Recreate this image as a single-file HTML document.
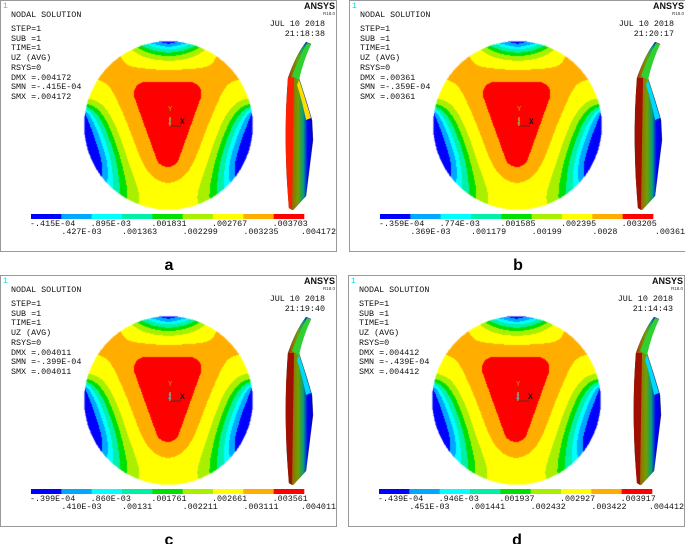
<!DOCTYPE html>
<html><head><meta charset="utf-8">
<style>
body{margin:0;background:#fff;}
#cv{position:absolute;left:0;top:0;}
#root{position:absolute;left:0;top:0;display:block;}
.t{font-family:"Liberation Mono",monospace;font-size:8.4px;fill:#111;}
.lab{font-family:"Liberation Sans",sans-serif;font-weight:bold;font-size:16px;fill:#000;}
</style></head>
<body>
<canvas id="cv" width="685" height="544"></canvas>
<svg id="root" width="685" height="544" viewBox="0 0 685 544">
<defs>
<linearGradient id="sideg" x1="0" x2="1" y1="0" y2="0">
<stop offset="0" stop-color="#c00000"/><stop offset="0.2" stop-color="#a06000"/>
<stop offset="0.45" stop-color="#70a000"/><stop offset="0.65" stop-color="#00a080"/>
<stop offset="0.8" stop-color="#0000ff"/><stop offset="1" stop-color="#0000cc"/>
</linearGradient>
</defs>
</svg>
<script>
const panelNames=['a','b','c','d'];
const panelX=[0,349,0,348];
const panelY=[0,0,275,275];
const times=['21:18:38','21:20:17','21:19:40','21:14:43'];
const dmx=['.004172','.00361','.004011','.004412'];
const smn=['-.415E-04','-.359E-04','-.399E-04','-.439E-04'];
const smx=['.004172','.00361','.004011','.004412'];
const legendTop=[
 ['-.415E-04','.895E-03','.001831','.002767','.003703'],
 ['-.359E-04','.774E-03','.001585','.002395','.003205'],
 ['-.399E-04','.860E-03','.001761','.002661','.003561'],
 ['-.439E-04','.946E-03','.001937','.002927','.003917']];
const legendBot=[
 ['.427E-03','.001363','.002299','.003235','.004172'],
 ['.369E-03','.001179','.00199','.0028','.00361'],
 ['.410E-03','.00131','.002211','.003111','.004011'],
 ['.451E-03','.001441','.002432','.003422','.004412']];
const bandColors=['#0000ff','#00a8ff','#00ffff','#00f0a8','#00e000','#a8f000','#ffff00','#ffae00','#ff0000'];
// observed band edge distances (px) from red core edge along the horizontal mid-line, outer to inner
const bandEdgeDist=[56,51,47,42,37,30,17];
// boundary field value by angle on disk rim (right half, y-down degrees; mirrored for left)
const edgeAngles=[-90,-84,-78,-72,-66,-60,-45,-28,-20,-15,-12,-10,-8,10,30,38,45,52,58,65,72,90];
const edgeValues=[-0.45,-0.35,-0.2,0,0.2,0.5,0.65,0.5,0.35,0.15,0,-0.25,-0.4,-0.6,-0.55,-0.3,-0.16,-0.04,0.08,0.21,0.33,0.34];
const coreX=[-0.27,0.25,-0.01];
const coreY=[-0.375,-0.375,0.35];
const coreRound=0.14;
const coreValue=0.9;

const NS='http://www.w3.org/2000/svg';
const root=document.getElementById('root');
function mk(tag,attrs,parent){const e=document.createElementNS(NS,tag);for(const k in attrs)e.setAttribute(k,attrs[k]);(parent||root).appendChild(e);return e;}
function interp(A,V,deg){
  let d=((deg+180)%360+360)%360-180;
  if(d>90)d=180-d; if(d<-90)d=-180-d;
  for(let i=0;i<A.length-1;i++){if(d>=A[i]&&d<=A[i+1]){const f=(d-A[i])/(A[i+1]-A[i]);return V[i]+f*(V[i+1]-V[i]);}}
  return d<A[0]?V[0]:V[V.length-1];
}
function segDist(px,py,ax,ay,bx,by){const dx=bx-ax,dy=by-ay;let t=((px-ax)*dx+(py-ay)*dy)/(dx*dx+dy*dy);t=Math.max(0,Math.min(1,t));return Math.hypot(px-ax-t*dx,py-ay-t*dy);}
function coreDist(x,y){
  let inside=true,md=1e9;
  for(let i=0;i<3;i++){const j=(i+1)%3;
    const cr=(coreX[j]-coreX[i])*(y-coreY[i])-(coreY[j]-coreY[i])*(x-coreX[i]);
    if(cr<0)inside=false;
    md=Math.min(md,segDist(x,y,coreX[i],coreY[i],coreX[j],coreY[j]));}
  return inside?0:md;
}
const N=81,h=2/(N-1);
const val=new Float64Array(N*N),fixedMask=new Uint8Array(N*N);
for(let j=0;j<N;j++)for(let i=0;i<N;i++){
  const x=-1+i*h,y=-1+j*h,r=Math.hypot(x,y),k=j*N+i;
  if(r>=1-h*0.3){fixedMask[k]=1;val[k]=interp(edgeAngles,edgeValues,Math.atan2(y,x)*180/Math.PI);}
  else if(coreDist(x,y)<coreRound){fixedMask[k]=1;val[k]=coreValue;}
  else val[k]=0.3;
}
for(let it=0;it<900;it++){
  for(let j=1;j<N-1;j++)for(let i=1;i<N-1;i++){const k=j*N+i;if(fixedMask[k])continue;
    const nv=0.25*(val[k-1]+val[k+1]+val[k-N]+val[k+N]);val[k]+=1.9*(nv-val[k]);}
}
function sample(x,y){
  const gx=Math.max(0,Math.min(N-1.001,(x+1)/h)),gy=Math.max(0,Math.min(N-1.001,(y+1)/h));
  const i=Math.floor(gx),j=Math.floor(gy),fx=gx-i,fy=gy-j,k=j*N+i;
  return (val[k]*(1-fx)+val[k+1]*fx)*(1-fy)+(val[k+N]*(1-fx)+val[k+N+1]*fx)*fy;
}
const CX=168,CY=125.5,R=84.5;
let edgeX=0;while(coreDist(edgeX,0)<coreRound)edgeX+=0.001;
const thresholds=bandEdgeDist.map(d=>sample(Math.min(0.995,edgeX+d/R),0));
thresholds.push(coreValue-1e-6);

const rgb=bandColors.map(c=>[parseInt(c.slice(1,3),16),parseInt(c.slice(3,5),16),parseInt(c.slice(5,7),16)]);
const cv=document.getElementById('cv'),ctx=cv.getContext('2d');
const S=Math.ceil(2*R)+2;
const img=ctx.createImageData(S,S);
for(let py=0;py<S;py++)for(let px=0;px<S;px++){
  const x=(px+0.5-S/2)/R,y=(py+0.5-S/2)/R,r=Math.hypot(x,y),o=(py*S+px)*4;
  if(r>1){img.data[o+3]=0;continue;}
  let v;
  if(coreDist(x,y)<coreRound)v=coreValue;else v=sample(x,y);
  let b=0;while(b<thresholds.length&&v>=thresholds[b])b++;
  const c=rgb[b];img.data[o]=c[0];img.data[o+1]=c[1];img.data[o+2]=c[2];
  img.data[o+3]=r>1-0.6/R?140:255;
}

panelNames.forEach((nm,p)=>{
  ctx.putImageData(img,Math.round(panelX[p]+CX-S/2),Math.round(panelY[p]+CY-S/2));
  const g=mk('g',{transform:`translate(${panelX[p]},${panelY[p]})`});
  
  
  const frame=mk('rect',{x:0.5,y:0.5,width:336,height:251,fill:'none',stroke:'#999','stroke-width':1},g);
  
  
  const one=mk('text',{x:3,y:8,fill:'#00e0e0','font-family':'Liberation Mono','font-size':'8px'},g);one.textContent='1';
  
  const an=mk('text',{x:335,y:9,'text-anchor':'end','font-family':'Liberation Sans','font-weight':'bold','font-size':'9px',fill:'#111'},g);an.textContent='ANSYS';
  
  const rv=mk('text',{x:335,y:15,'text-anchor':'end','font-family':'Liberation Sans','font-size':'4.5px',fill:'#333'},g);rv.textContent='R18.0';
  
  const info=['NODAL SOLUTION',null,'STEP=1','SUB =1','TIME=1','UZ        (AVG)','RSYS=0','DMX ='+dmx[p],'SMN ='+smn[p],'SMX ='+smx[p]];
  const ys=[17,0,31,41,50,60,70,80,89,99];
  info.forEach((s,i)=>{if(!s)return;const t=mk('text',{x:11,y:ys[i],class:'t','xml:space':'preserve'},g);t.textContent=s;
    });
  const d1=mk('text',{x:325,y:26,class:'t','text-anchor':'end'},g);d1.textContent='JUL 10 2018';
  
  const d2=mk('text',{x:325,y:36,class:'t','text-anchor':'end'},g);d2.textContent=times[p];
  
  const tri=mk('g',{},g);
  mk('line',{x1:170,y1:117,x2:170,y2:126,stroke:'#c8c800','stroke-width':1.2},tri);
  mk('line',{x1:170,y1:126,x2:181,y2:126,stroke:'#333','stroke-width':0.8},tri);
  const ty=mk('text',{x:168,y:111,'font-family':'Liberation Mono','font-size':'7px',fill:'#bbaa00'},tri);ty.textContent='Y';
  const tx=mk('text',{x:180,y:124,'font-family':'Liberation Mono','font-size':'8px','font-weight':'bold',fill:'#111'},tri);tx.textContent='X';
  const tz=mk('text',{x:168,y:124,'font-family':'Liberation Mono','font-size':'6px',fill:'#33aaff'},tri);tz.textContent='Z';
  const side=mk('g',{},g);
  mk('path',{d:'M288 78 Q296 55 306 42 L311 44 Q303 60 299 78 L306 100 L312 120 L313 140 L306 196 L293 210 L289 208 Q283 140 288 78 Z',fill:'url(#sideg)',stroke:'#333','stroke-width':0.3},side);
  mk('path',{d:'M292 76 Q300 55 307 43 L311 44 Q303 62 299 80 Z',fill:'#30d030'},side);
  mk('path',{d:'M288 78 L294 78 L292 210 L289 208 Q283 140 288 78Z',fill:p==0?'#ff2000':'#a01000'},side);
  mk('path',{d:'M299 80 Q304 95 308 108 L311 118 L306 120 Q302 100 297 85Z',fill:p==0?'#ffdd00':'#00d8ff'},side);
  const leg=mk('g',{},g);
  const lx=31,lw=273/9;
  bandColors.forEach((c,i)=>{const r=mk('rect',{x:lx+i*lw,y:214,width:lw+0.3,height:5,fill:c},leg);
    });
  legendTop[p].forEach((s,i)=>{const t=mk('text',{x:lx+i*2*lw-1,y:226,class:'t'},leg);t.textContent=s;
    });
  legendBot[p].forEach((s,i)=>{const x=i<4?lx+(2*i+1)*lw:336;const t=mk('text',{x:x,y:234,class:'t','text-anchor':i<4?'start':'end'},leg);t.textContent=s;
    });
  const L=mk('text',{x:panelX[p]+169,y:panelY[p]+270,class:'lab','text-anchor':'middle'});L.textContent=nm;
  
});
</script>
</body></html>
